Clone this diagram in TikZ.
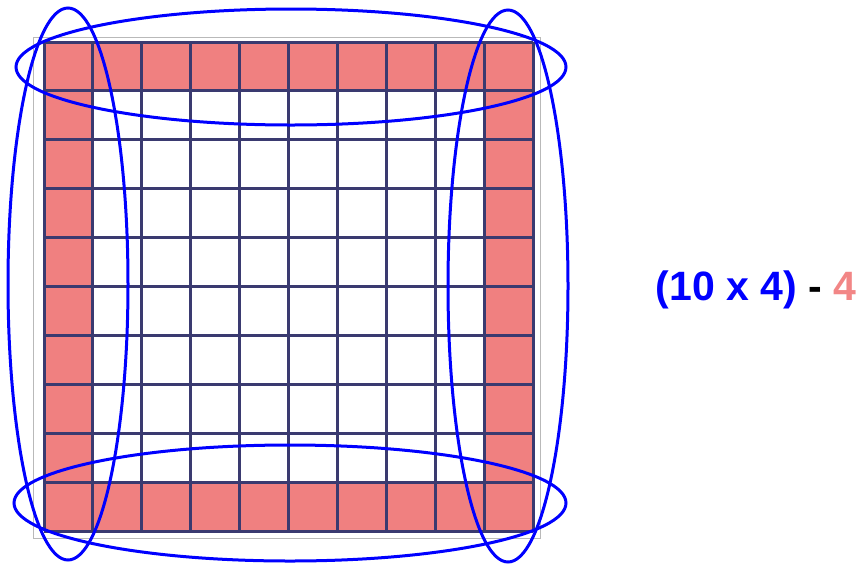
\documentclass[tikz,border=0pt]{standalone}
\usepackage{fontspec}
\setmainfont{Liberation Sans}
\definecolor{cellpink}{RGB}{240,128,128}
\definecolor{gridline}{RGB}{58,58,112}
\definecolor{loopblue}{RGB}{0,0,255}
\definecolor{countpink}{RGB}{242,134,134}
\tikzset{
  frame/.style    = {draw=gray!55, line width=1pt},
  edgecell/.style = {fill=cellpink, even odd rule},
  gridln/.style   = {draw=gridline, line width=3pt},
  loop/.style     = {draw=loopblue, line width=3pt},
  formula/.style  = {font=\fontsize{41}{48}\selectfont\bfseries, inner sep=0pt},
}

\begin{document}
\begin{tikzpicture}[x=1pt, y=-1pt]

  % ── cell size and grid origin ──
  \def\cs{48.9}
  \def\gx{44}
  \def\gy{42}

  \useasboundingbox (0,0) rectangle (865,566);

  % ──────────────────────────────────────────────
  %  FRAME AND BORDER CELLS
  % ──────────────────────────────────────────────
  \draw[frame] (33,37) rectangle (540,538);
  \fill[edgecell] (\gx,\gy) rectangle ++(10*\cs,10*\cs)
                  (\gx+\cs,\gy+\cs) rectangle ++(8*\cs,8*\cs);

  % ──────────────────────────────────────────────
  %  10 x 10 GRID
  % ──────────────────────────────────────────────
  \foreach \k in {0,...,10} {
    \draw[gridln] (\gx+\k*\cs,\gy) -- (\gx+\k*\cs,\gy+10*\cs);
    \draw[gridln] (\gx,\gy+\k*\cs) -- (\gx+10*\cs,\gy+\k*\cs);
  }

  % ──────────────────────────────────────────────
  %  FOUR LOOPS ROUND THE SIDES
  % ──────────────────────────────────────────────
  \draw[loop] (291,67)  ellipse (275 and 58);   % top row
  \draw[loop] (290,503) ellipse (276 and 58);   % bottom row
  \draw[loop] (68,284)  ellipse (60 and 276);   % left column
  \draw[loop] (508,286) ellipse (60 and 276);   % right column

  % formula
  \node[formula] (count) at (756,290)
    {\textcolor{loopblue}{(10 x 4)} - \textcolor{countpink}{4}};

\end{tikzpicture}
\end{document}
